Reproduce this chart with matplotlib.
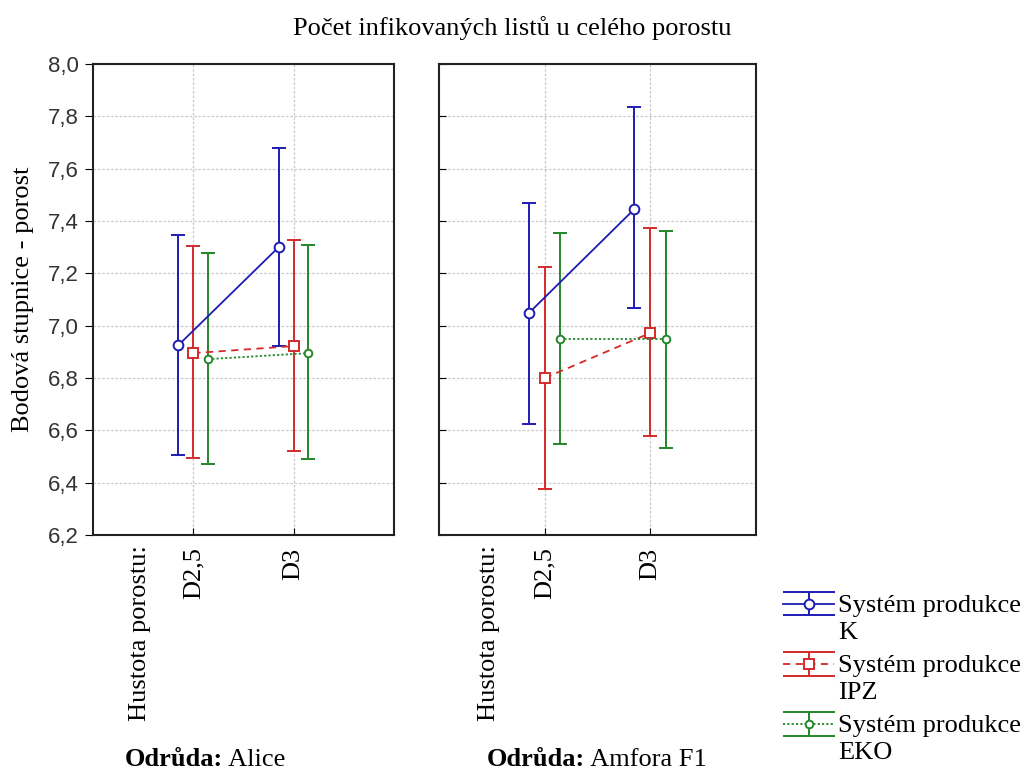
import matplotlib
matplotlib.use("Agg")
import matplotlib.pyplot as plt
import matplotlib.transforms as mtransforms
from matplotlib.legend_handler import HandlerErrorbar
from matplotlib.lines import Line2D

# data: mean and confidence interval limits, order = D2,5 ; D3
hustota = ["D2,5", "D3"]
odrudy = ["Alice", "Amfora F1"]
systemy = ["K", "IPZ", "EKO"]

alice_mean = {"K": [6.925, 7.30], "IPZ": [6.895, 6.922], "EKO": [6.872, 6.895]}
alice_low = {"K": [6.506, 6.922], "IPZ": [6.494, 6.521], "EKO": [6.470, 6.490]}
alice_high = {"K": [7.346, 7.679], "IPZ": [7.304, 7.327], "EKO": [7.278, 7.308]}

amfora_mean = {"K": [7.048, 7.446], "IPZ": [6.800, 6.972], "EKO": [6.949, 6.949]}
amfora_low = {"K": [6.624, 7.067], "IPZ": [6.376, 6.578], "EKO": [6.548, 6.533]}
amfora_high = {"K": [7.469, 7.835], "IPZ": [7.224, 7.373], "EKO": [7.354, 7.360]}

colors = {"K": "#1c1cb4", "IPZ": "#d42a2a", "EKO": "#23862a"}
markers = {"K": "o", "IPZ": "s", "EKO": "o"}
msizes = {"K": 7, "IPZ": 6.5, "EKO": 5.5}
lstyles = {"K": "-", "IPZ": (0, (4, 3)), "EKO": (0, (1.2, 1.2))}
offsets = {"K": -0.15, "IPZ": 0.0, "EKO": 0.145}

serif = "Liberation Serif"
sans = "Liberation Sans"
fs = 19


class WideCapHandler(HandlerErrorbar):
    # legend caps as wide as the whole handle, handle beside the first text line
    def create_artists(self, legend, orig_handle, xdescent, ydescent, width, height,
                       fontsize, trans):
        trans = mtransforms.Affine2D().translate(0, 11) + trans
        arts = super().create_artists(legend, orig_handle, xdescent, ydescent, width,
                                      height, fontsize, trans)
        for a in arts:
            if isinstance(a, Line2D) and a.get_marker() == "_":
                a.set_markersize(width)
        return arts


fig = plt.figure(figsize=(10.25, 7.71), dpi=100)
ax1 = fig.add_axes([93 / 1025, 1 - 535 / 771, 301 / 1025, 471 / 771])
ax2 = fig.add_axes([439 / 1025, 1 - 535 / 771, 317 / 1025, 471 / 771])

handles = []
for ax, means, lows, highs in [
    (ax1, alice_mean, alice_low, alice_high),
    (ax2, amfora_mean, amfora_low, amfora_high),
]:
    for s in systemy:
        xs = [i + 1 + offsets[s] for i in range(len(hustota))]
        m = means[s]
        err = [[m[i] - lows[s][i] for i in range(2)], [highs[s][i] - m[i] for i in range(2)]]
        eb = ax.errorbar(xs, m, yerr=err, color=colors[s], ls=lstyles[s], lw=1.3,
                         marker=markers[s], ms=msizes[s], mfc="white", mec=colors[s],
                         mew=1.4, capsize=5, elinewidth=1.4, capthick=1.4, zorder=3)
        if ax is ax1:
            handles.append(eb)
    ax.set_xlim(0, 3)
    ax.set_ylim(6.2, 8.0)
    ax.set_yticks([6.2 + 0.2 * i for i in range(10)])
    ax.set_xticks([1, 2])
    ax.set_xticklabels(hustota, rotation=90, fontfamily=serif, fontsize=fs)
    ax.grid(True, color="#c8c8c8", ls=(0, (2, 1.5)), lw=0.9)
    ax.set_axisbelow(True)
    for sp in ax.spines.values():
        sp.set_linewidth(1.5)
        sp.set_color("#222222")
    ax.tick_params(axis="x", direction="in", length=5, pad=9)
    trans = mtransforms.blended_transform_factory(ax.transData, ax.transAxes)
    ax.text(0.47, -0.021, "Hustota porostu:", transform=trans, rotation=90,
            ha="center", va="top", fontfamily=serif, fontsize=fs)

ax1.set_yticklabels([f"{6.2 + 0.2 * i:.1f}".replace(".", ",") for i in range(10)],
                    fontfamily=sans, fontsize=16, color="#333333")
ax1.tick_params(axis="y", direction="out", length=6, pad=4)
ax2.tick_params(axis="y", direction="in", length=5, labelleft=False)
ax1.set_ylabel("Bodová stupnice - porost", fontfamily=serif, fontsize=fs)
ax1.yaxis.set_label_coords(-59 / 301, 0.5)

fig.text(512 / 1025, 1 - 28 / 771, "Počet infikovaných listů u celého porostu",
         ha="center", va="center", fontfamily=serif, fontsize=fs)

# popisky odrůd: tučné "Odrůda:" + název
for x0, name in [(125 / 1025, odrudy[0]), (487 / 1025, odrudy[1])]:
    t = fig.text(x0, 0.006, "Odrůda:", ha="left", va="baseline",
                 fontfamily=serif, fontsize=fs, fontweight="bold")
    fig.add_artist(plt.Annotation(" " + name, xy=(1, 0), xycoords=t, va="bottom",
                                  ha="left", fontfamily=serif, fontsize=fs,
                                  annotation_clip=False))

labels = ["Systém produkce\n" + s for s in systemy]
leg = fig.legend(handles, labels, loc="upper left", bbox_to_anchor=(783 / 1025, 1 - 595 / 771),
                 frameon=False, prop={"family": serif, "size": fs}, handlelength=1.95,
                 handletextpad=0.15, labelspacing=0.42, borderaxespad=0, borderpad=0,
                 handler_map={type(handles[0]): WideCapHandler(yerr_size=0.45)})
for t in leg.get_texts():
    t.set_linespacing(1.3)

fig.savefig("out.png", dpi=100)
